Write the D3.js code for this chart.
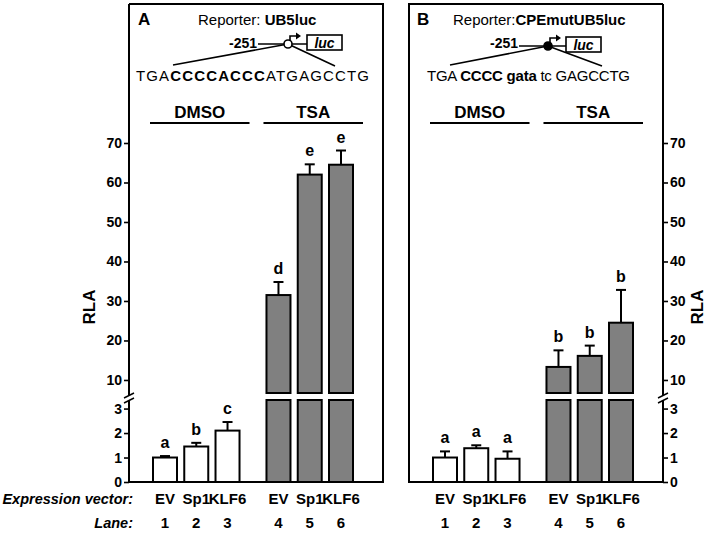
<!DOCTYPE html>
<html>
<head>
<meta charset="utf-8">
<script src="https://cdn.jsdelivr.net/npm/d3@7"></script>
<style>
  body { margin: 0; background: #fff; }
  svg { font-family: "Liberation Sans", Arial, sans-serif; }
</style>
</head>
<body>
<svg id="chart" width="709" height="533"></svg>
<script>
// data
const vectors = ["EV", "Sp1", "KLF6", "EV", "Sp1", "KLF6"];
const laneNums = ["1", "2", "3", "4", "5", "6"];
const treatment = ["DMSO", "DMSO", "DMSO", "TSA", "TSA", "TSA"];
const rlaA = [1.0, 1.45, 2.1, 31.5, 62, 64.5];
const errA = [0.06, 0.15, 0.35, 3.3, 2.6, 3.6];
const letA = ["a", "b", "c", "d", "e", "e"];
const rlaB = [1.0, 1.38, 0.95, 13.3, 16.1, 24.5];
const errB = [0.25, 0.12, 0.3, 4.2, 2.6, 8.3];
const letB = ["a", "a", "a", "b", "b", "b"];
const lowTicks = [0, 1, 2, 3];
const highTicks = [10, 20, 30, 40, 50, 60, 70];

const svg = d3.select("#chart");
const top_y = 4, base_y = 482;
const panelW = 254;
const barW = 24;

// broken y axis: lower and upper segments
const yLow = d3.scaleLinear().domain([0, 3.35]).range([base_y, 400]);
const yHigh = d3.scaleLinear().domain([6.7, 70]).range([393, 143]);
function yv(v) { return v > 3.35 ? yHigh(v) : yLow(v); }

function slot(i) { return i + (i >= 3 ? 0.63 : 0); }

function drawPanel(left, vals, errs, lets, side) {
    const g = svg.append("g");
    const x = d3.scaleLinear().domain([0, slot(5)]).range([left + 36, left + 212]);
    const right = left + panelW;

    // frame (axis side drawn separately)
    const frame = side === "left"
        ? `M${left},${top_y}H${right}V${base_y}H${left}`
        : `M${right},${top_y}H${left}V${base_y}H${right}`;
    g.append("path").attr("d", frame).attr("fill", "none")
        .attr("stroke", "#000").attr("stroke-width", 2);

    const ax = side === "left" ? left : right;
    const mk = side === "left" ? d3.axisLeft : d3.axisRight;
    const gl = g.append("g").attr("transform", `translate(${ax},0)`)
        .call(mk(yLow).tickValues(lowTicks).tickSize(5).tickPadding(2).tickFormat(d3.format("d")));
    const gh = g.append("g").attr("transform", `translate(${ax},0)`)
        .call(mk(yHigh).tickValues(highTicks).tickSize(5).tickPadding(2).tickFormat(d3.format("d")));
    [gl, gh].forEach(a => {
        a.select(".domain").remove();
        a.selectAll("line").attr("stroke-width", 1.6);
        a.selectAll("text").attr("font-size", 14).attr("font-weight", "bold")
            .attr("font-family", "Liberation Sans, Arial, sans-serif");
    });
    g.append("line").attr("x1", ax).attr("x2", ax).attr("y1", top_y).attr("y2", 395.5)
        .attr("stroke", "#000").attr("stroke-width", 2);
    g.append("line").attr("x1", ax).attr("x2", ax).attr("y1", 400.5).attr("y2", base_y)
        .attr("stroke", "#000").attr("stroke-width", 2);
    [395.5, 400.5].forEach(yy => {
        g.append("line").attr("x1", ax - 5).attr("y1", yy + 2.5)
            .attr("x2", ax + 5).attr("y2", yy - 2.5)
            .attr("stroke", "#000").attr("stroke-width", 1.5);
    });

    // bars
    vals.forEach((v, i) => {
        const cx = x(slot(i));
        const fill = treatment[i] === "TSA" ? "#808080" : "#fff";
        if (v > 3.35) {
            g.append("rect").attr("x", cx - barW / 2).attr("y", yLow(3.35))
                .attr("width", barW).attr("height", base_y - yLow(3.35))
                .attr("fill", fill).attr("stroke", "#000").attr("stroke-width", 2);
            g.append("rect").attr("x", cx - barW / 2).attr("y", yHigh(v))
                .attr("width", barW).attr("height", yHigh(6.7) - yHigh(v))
                .attr("fill", fill).attr("stroke", "#000").attr("stroke-width", 2);
        } else {
            g.append("rect").attr("x", cx - barW / 2).attr("y", yLow(v))
                .attr("width", barW).attr("height", base_y - yLow(v))
                .attr("fill", fill).attr("stroke", "#000").attr("stroke-width", 2);
        }
        const et = yv(v + errs[i]);
        g.append("line").attr("x1", cx).attr("x2", cx).attr("y1", yv(v)).attr("y2", et)
            .attr("stroke", "#000").attr("stroke-width", 2);
        g.append("line").attr("x1", cx - 5).attr("x2", cx + 5).attr("y1", et).attr("y2", et)
            .attr("stroke", "#000").attr("stroke-width", 2);
        g.append("text").attr("x", cx).attr("y", et - 8).attr("text-anchor", "middle")
            .attr("font-size", 16).attr("font-weight", "bold").text(lets[i]);

        // lane labels
        g.append("text").attr("x", cx).attr("y", 504).attr("text-anchor", "middle")
            .attr("font-size", 15).attr("font-weight", "bold").text(vectors[i]);
        g.append("text").attr("x", cx).attr("y", 528).attr("text-anchor", "middle")
            .attr("font-size", 15).attr("font-weight", "bold").text(laneNums[i]);
    });

    // treatment group headers
    [[0, 2, "DMSO"], [3, 5, "TSA"]].forEach(([a, b, lab]) => {
        const x0 = x(slot(a)) - 15, x1 = x(slot(b)) + 22;
        g.append("line").attr("x1", x0).attr("x2", x1).attr("y1", 123).attr("y2", 123)
            .attr("stroke", "#000").attr("stroke-width", 2);
        g.append("text").attr("x", (x0 + x1) / 2).attr("y", 118).attr("text-anchor", "middle")
            .attr("font-size", 17).attr("font-weight", "bold").text(lab);
    });
    return g;
}

const gA = drawPanel(129, rlaA, errA, letA, "left");
const gB = drawPanel(409, rlaB, errB, letB, "right");

// promoter diagrams
function promoter(g, o) {
    g.append("text").attr("x", o.letterX).attr("y", 25).attr("font-size", 17)
        .attr("font-weight", "bold").text(o.letter);
    const rep = g.append("text").attr("x", o.repX).attr("y", 25).attr("font-size", 15);
    rep.append("tspan").text(o.repSep);
    rep.append("tspan").attr("font-weight", "bold").text(o.reporter);

    g.append("text").attr("x", o.numX).attr("y", 48).attr("font-size", 14)
        .attr("font-weight", "bold").text("-251");
    g.append("line").attr("x1", o.numX + 29).attr("x2", o.boxX).attr("y1", o.cy).attr("y2", o.cy)
        .attr("stroke", "#000").attr("stroke-width", 1.6);
    g.append("path").attr("d", `M${o.cx + 2},${o.cy - 3}V${o.cy - 8}H${o.cx + 9}`)
        .attr("fill", "none").attr("stroke", "#000").attr("stroke-width", 1.6);
    g.append("path").attr("d", `M${o.cx + 13},${o.cy - 8}L${o.cx + 8},${o.cy - 11.5}L${o.cx + 8},${o.cy - 4.5}Z`)
        .attr("fill", "#000");
    g.append("rect").attr("x", o.boxX).attr("y", o.cy - 9).attr("width", 35).attr("height", 15)
        .attr("fill", "#fff").attr("stroke", "#000").attr("stroke-width", 1.6);
    g.append("text").attr("x", o.boxX + 17.5).attr("y", o.cy + 3.5).attr("text-anchor", "middle")
        .attr("font-size", 14).attr("font-weight", "bold").attr("font-style", "italic").text("luc");
    g.append("line").attr("x1", o.cx).attr("y1", o.cy).attr("x2", o.l1).attr("y2", 65)
        .attr("stroke", "#000").attr("stroke-width", 1.6);
    g.append("line").attr("x1", o.cx).attr("y1", o.cy).attr("x2", o.l2).attr("y2", 66)
        .attr("stroke", "#000").attr("stroke-width", 1.6);
    g.append("circle").attr("cx", o.cx).attr("cy", o.cy).attr("r", 4)
        .attr("fill", o.filled ? "#000" : "#fff").attr("stroke", "#000").attr("stroke-width", 1.6);

    const seq = g.append("text").attr("x", o.seqX).attr("y", 81).attr("font-size", 15)
        .attr("textLength", o.seqLen).attr("lengthAdjust", "spacing");
    o.seq.forEach(([s, b]) => {
        seq.append("tspan").attr("font-weight", b ? "bold" : "normal").text(s);
    });
}

promoter(gA, {
    letter: "A", letterX: 138, repX: 198, repSep: "Reporter: ", reporter: "UB5luc",
    numX: 229, cx: 288, cy: 44, boxX: 307, l1: 173, l2: 335,
    seqX: 136, seqLen: 233, filled: false,
    seq: [["TGA", false], ["CCCCACCC", true], ["ATGAGCCTG", false]]
});
promoter(gB, {
    letter: "B", letterX: 417, repX: 453, repSep: "Reporter:", reporter: "CPEmutUB5luc",
    numX: 490, cx: 548, cy: 46, boxX: 566, l1: 450, l2: 602,
    seqX: 427, seqLen: 203, filled: true,
    seq: [["TGA ", false], ["CCCC ", true], ["gata ", true], ["tc ", false], ["GAGCCTG", false]]
});

// axis titles
svg.append("text").attr("transform", "translate(95,307) rotate(-90)")
    .attr("text-anchor", "middle").attr("font-size", 17).attr("font-weight", "bold").text("RLA");
svg.append("text").attr("transform", "translate(703,307) rotate(-90)")
    .attr("text-anchor", "middle").attr("font-size", 17).attr("font-weight", "bold").text("RLA");

// row labels
svg.append("text").attr("x", 133).attr("y", 504).attr("text-anchor", "end")
    .attr("font-size", 14.5).attr("font-weight", "bold").attr("font-style", "italic")
    .text("Expression vector:");
svg.append("text").attr("x", 133).attr("y", 528).attr("text-anchor", "end")
    .attr("font-size", 14.5).attr("font-weight", "bold").attr("font-style", "italic")
    .text("Lane:");
</script>
</body>
</html>
